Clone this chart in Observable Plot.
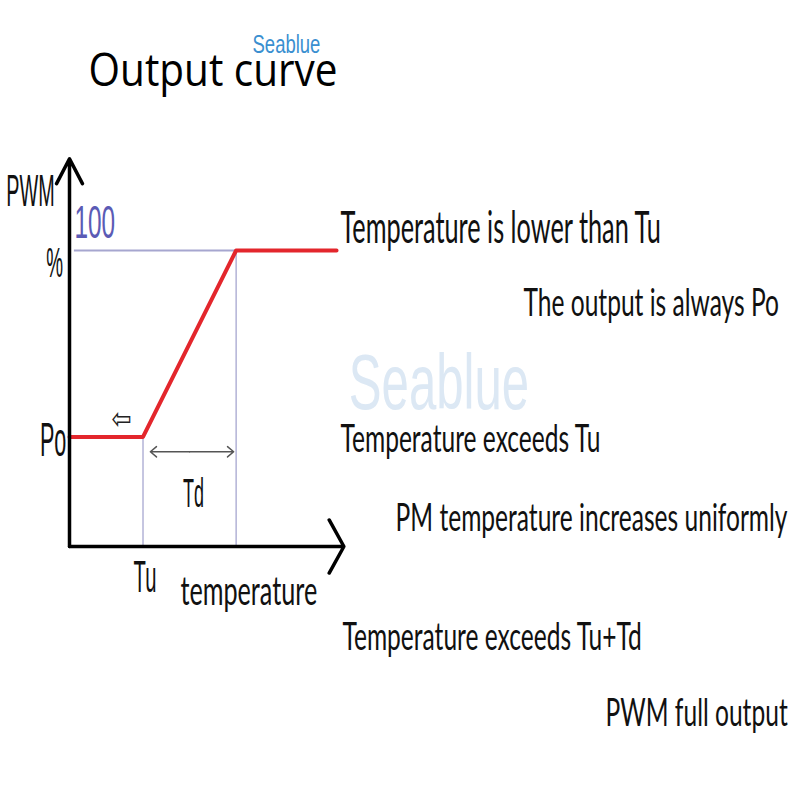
<!DOCTYPE html>
<html>
<head>
<meta charset="utf-8">
<script src="https://cdn.jsdelivr.net/npm/d3@7"></script>
<script src="https://cdn.jsdelivr.net/npm/@observablehq/plot@0.6"></script>
<style>
  html, body { margin: 0; padding: 0; background: #fff; }
  #chart { width: 800px; height: 800px; }
</style>
</head>
<body>
<div id="chart"></div>
<script>
// ---- data (diagram units: temperature on x, PWM % on y) ----
const Tu = 30;            // temperature where ramp starts
const Td = 38;            // ramp width
const Po = 37;            // base output %
const fullPWM = 100;      // full output %
const curveTemps = [0, Tu, Tu + Td, 109];
const curvePWM   = [Po, Po, fullPWM, fullPWM];
const xAxisEnd = 112;
const yAxisEnd = 131;

const titleText = "Output curve";
const watermark = "Seablue";
const yLabel = "PWM";
const pctLabel = "%";
const hundredLabel = "100";
const poLabel = "Po";
const tuLabel = "Tu";
const tdLabel = "Td";
const xLabel = "temperature";
const notes = [
  "Temperature is lower than Tu",
  "The output is always Po",
  "Temperature exceeds Tu",
  "PM temperature increases uniformly",
  "Temperature exceeds Tu+Td",
  "PWM full output"
];

// ---- build tables ----
const curve = curveTemps.map((t, i) => ({t, p: curvePWM[i]}));
const axes = [{x1: 0, y1: 0, x2: 0, y2: yAxisEnd}, {x1: 0, y1: 0, x2: xAxisEnd, y2: 0}];
const tdMid = Tu + Td / 2;
const tdArrows = [{x1: tdMid, x2: Tu + 3}, {x1: tdMid, x2: Tu + Td - 1}];

// annotation anchors in diagram units
const noteAnchors = [
  {x: 110.6, y: 102.4},
  {x: 185.3, y: 78.0},
  {x: 110.6, y: 31.8},
  {x: 133.1, y: 5.4},
  {x: 111.4, y: -35.1},
  {x: 218.8, y: -60.5}
];
const noteRows = notes.map((text, i) => ({text, ...noteAnchors[i]}));

const arial = "Liberation Sans, Arial, sans-serif";
const calib = "Lato, Open Sans, sans-serif";

const svg = Plot.plot({
  width: 800,
  height: 800,
  margin: 0,
  x: {domain: [0, 100], range: [69, 314], axis: null},
  y: {domain: [0, 100], range: [546, 250], axis: null},
  style: {background: "#fff"},
  marks: [
    // watermarks
    Plot.text([watermark], {x: 114, y: 46.6, text: d => d, textAnchor: "start", lineAnchor: "bottom",
      fontFamily: arial, fontSize: 78, fill: "#dce8f4", ariaDescription: "wm"}),
    // guides
    Plot.ruleY([fullPWM], {x1: 2, x2: Tu + Td, stroke: "#a6a6cf", strokeWidth: 2}),
    Plot.ruleX([Tu], {y1: 0, y2: Po, stroke: "#8c8cc2", strokeWidth: 1}),
    Plot.ruleX([Tu + Td], {y1: 0, y2: fullPWM, stroke: "#8c8cc2", strokeWidth: 1}),
    // curve
    Plot.line(curve, {x: "t", y: "p", stroke: "#e3262c", strokeWidth: 4}),
    // axes
    Plot.arrow([axes[0]], {x1: "x1", y1: "y1", x2: "x2", y2: "y2", stroke: "#000", strokeWidth: 3.5,
      headAngle: 55, headLength: 12}),
    Plot.arrow([axes[1]], {x1: "x1", y1: "y1", x2: "x2", y2: "y2", stroke: "#000", strokeWidth: 3.5,
      headAngle: 122, headLength: 13}),
    // Td span arrows
    Plot.arrow(tdArrows, {x1: "x1", x2: "x2", y1: 32, y2: 32, stroke: "#555", strokeWidth: 1.5,
      headAngle: 80, headLength: 8}),
    // hollow left arrow
    Plot.text(["\u21E6"], {x: 21.2, y: 42.9, text: d => d, fontSize: 30, fill: "#222",
      fontFamily: "DejaVu Sans, sans-serif", ariaDescription: "hollow"}),
    // axis labels (Arial-like)
    Plot.text([yLabel], {x: -15.9, y: 115.2, text: d => d, lineAnchor: "bottom", fontSize: 44, fontFamily: arial, fill: "#111", ariaDescription: "lab"}),
    Plot.text([pctLabel], {x: -6.1, y: 90.9, text: d => d, lineAnchor: "bottom", fontSize: 42, fontFamily: arial, fill: "#111", ariaDescription: "lab"}),
    Plot.text([poLabel], {x: -6.7, y: 30.7, text: d => d, lineAnchor: "bottom", fontSize: 48, fontFamily: arial, fill: "#111", ariaDescription: "lab"}),
    Plot.text([tuLabel], {x: 30.8, y: -15.5, text: d => d, lineAnchor: "bottom", fontSize: 45, fontFamily: arial, fill: "#111", ariaDescription: "lab"}),
    Plot.text([tdLabel], {x: 50.6, y: 13.2, text: d => d, lineAnchor: "bottom", fontSize: 40, fontFamily: arial, fill: "#111", ariaDescription: "lab"}),
    Plot.text([hundredLabel], {x: 2.0, y: 104.1, text: d => d, textAnchor: "start", lineAnchor: "bottom", fontSize: 46, fontFamily: arial, fill: "#5b5bb5", ariaDescription: "lab100"}),
    Plot.text([xLabel], {x: 45.3, y: -19.9, text: d => d, textAnchor: "start", lineAnchor: "bottom", fontSize: 40, fontFamily: calib, fill: "#111", ariaDescription: "notes"}),
    // notes
    Plot.text(noteRows.slice(0, 1), {x: "x", y: "y", text: "text", fontSize: 44, textAnchor: "start", lineAnchor: "bottom",
      fontFamily: calib, fill: "#111", ariaDescription: "note1"}),
    Plot.text(noteRows.slice(1), {x: "x", y: "y", text: "text", fontSize: 39, textAnchor: "start", lineAnchor: "bottom",
      fontFamily: calib, fill: "#111", ariaDescription: "notes"}),
    // title
    Plot.text([titleText], {x: 7.8, y: 155.7, text: d => d, textAnchor: "start", lineAnchor: "bottom",
      fontSize: 46, fontFamily: "Open Sans, sans-serif", fill: "#000", ariaDescription: "title"}),
    Plot.text([watermark], {x: 74.7, y: 166.6, text: d => d, textAnchor: "start", lineAnchor: "bottom",
      fontSize: 25, fontFamily: arial, fill: "#3a8fd0", ariaDescription: "wmsmall"})
  ]
});

document.getElementById("chart").append(svg);

// horizontal condensing of text (the original lettering is narrow):
// append a horizontal scale to each text's own transform, about its anchor point
const squeeze = {lab: 0.45, lab100: 0.53, notes: 0.63, note1: 0.575, title: 0.88, wm: 0.63, wmsmall: 0.74, hollow: 0.8};
for (const [label, k] of Object.entries(squeeze)) {
  svg.querySelectorAll(`g[aria-description="${label}"] text`).forEach(t => {
    let tr = t.getAttribute("transform") || "";
    const x = t.getAttribute("x"), y = t.getAttribute("y");
    const px = x != null && !/em$/.test(x) ? x : null;
    const py = y != null && !/em$/.test(y) ? y : null;
    if (px != null || py != null) {
      tr += ` translate(${px ?? 0},${py ?? 0})`;
      if (px != null) t.removeAttribute("x");
      if (py != null) t.removeAttribute("y");
    }
    t.setAttribute("transform", `${tr} scale(${k},1)`);
  });
}
</script>
</body>
</html>
